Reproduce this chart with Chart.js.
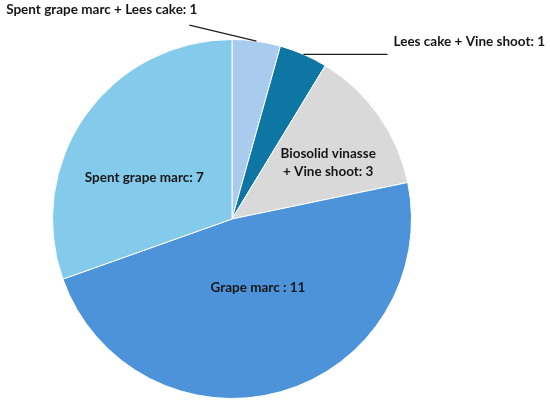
<!DOCTYPE html>
<html>
<head>
<meta charset="utf-8">
<script src="https://cdn.jsdelivr.net/npm/chart.js@4.4.1/dist/chart.umd.min.js"></script>
<style>
  html, body { margin: 0; padding: 0; background: #fff; }
  #wrap { width: 550px; height: 404px; }
</style>
</head>
<body>
<div id="wrap"><canvas id="myChart"></canvas></div>
<script>
const categories = ['Spent grape marc + Lees cake', 'Lees cake + Vine shoot', 'Biosolid vinasse + Vine shoot', 'Grape marc', 'Spent grape marc'];
const values = [1, 1, 3, 11, 7];
const separators = [': ', ': ', ': ', ' : ', ': '];
const sliceColors = ['#A9CBEE', '#0E76A3', '#D9D9D9', '#4D93D9', '#83CAEB'];

// how each label is placed: outside with a leader line, or inside the slice
const labelLayout = [
    { outside: true, line: [-67, -16], align: 'right', shift: [8, -16] },
    { outside: true, line: [84, 0], align: 'left', shift: [6, -13] },
    { r: 0.62, da: 5, wrap: true },
    { r: 0.41, da: -5 },
    { r: 0.54, da: -10 }
];

const ctx = document.getElementById('myChart').getContext('2d');

const sliceLabels = {
    id: 'sliceLabels',
    afterDatasetsDraw: (chart) => {
        const c = chart.ctx;
        const arcs = chart.getDatasetMeta(0).data;
        c.save();
        c.font = 'bold 13.5px Lato';
        c.fillStyle = '#161616';
        c.textBaseline = 'middle';
        arcs.forEach((arc, i) => {
            const p = arc.getProps(['x', 'y', 'startAngle', 'endAngle', 'outerRadius'], true);
            const mid = (p.startAngle + p.endAngle) / 2;
            const cfg = labelLayout[i];
            const text = categories[i] + separators[i] + values[i];
            if (cfg.outside) {
                const x0 = p.x + p.outerRadius * Math.cos(mid);
                const y0 = p.y + p.outerRadius * Math.sin(mid);
                const x1 = x0 + cfg.line[0];
                const y1 = y0 + cfg.line[1];
                c.beginPath();
                c.moveTo(x0, y0);
                c.lineTo(x1, y1);
                c.lineWidth = 1.2;
                c.strokeStyle = '#1f1f1f';
                c.stroke();
                c.textAlign = cfg.align;
                c.fillText(text, x1 + cfg.shift[0], y1 + cfg.shift[1]);
            } else {
                const a = mid + cfg.da * Math.PI / 180;
                const x = p.x + cfg.r * p.outerRadius * Math.cos(a);
                const y = p.y + cfg.r * p.outerRadius * Math.sin(a);
                c.textAlign = 'center';
                if (cfg.wrap) {
                    const k = text.indexOf(' + ');
                    c.fillText(text.slice(0, k), x, y - 9);
                    c.fillText(text.slice(k + 1), x, y + 9);
                } else {
                    c.fillText(text, x, y);
                }
            }
        });
        c.restore();
    }
};

const myChart = new Chart(ctx, {
    type: 'pie',
    data: {
        labels: categories,
        datasets: [{
            data: values,
            backgroundColor: sliceColors,
            borderColor: '#ffffff',
            borderWidth: 1
        }]
    },
    options: {
        responsive: true,
        maintainAspectRatio: false,
        animation: false,
        layout: {
            padding: { top: 39, bottom: 5, left: 52, right: 138 }
        },
        plugins: {
            legend: { display: false },
            tooltip: { enabled: false }
        }
    },
    plugins: [sliceLabels]
});
</script>
</body>
</html>
